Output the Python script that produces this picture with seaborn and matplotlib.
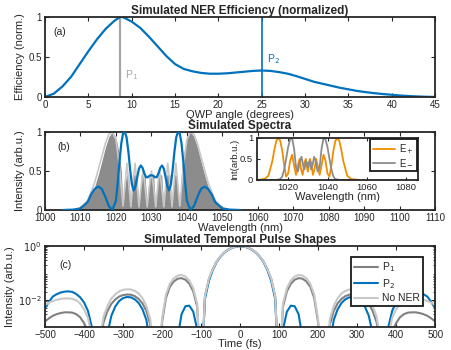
import numpy as np
import pandas as pd
import matplotlib
matplotlib.use("Agg")
import matplotlib.pyplot as plt
import seaborn as sns
from matplotlib.ticker import LogLocator, NullFormatter, FixedLocator, FixedFormatter

# ---------------- data ----------------
# (a) NER efficiency vs QWP angle
qwp_angle = [0, 1, 2, 2.5, 3, 4, 5, 6, 7, 8, 8.7, 9, 10, 11, 12, 13, 14, 15, 16, 17, 18, 19,
             20, 21, 22, 23, 24, 25, 26, 27, 28, 29, 30, 31, 32, 33, 34, 35, 36, 37, 38, 39,
             40, 41, 42, 43, 44, 45]
efficiency = [0, 0.04, 0.13, 0.19, 0.25, 0.41, 0.57, 0.72, 0.85, 0.95, 1.0, 0.995, 0.94, 0.86,
              0.75, 0.63, 0.51, 0.41, 0.35, 0.32, 0.30, 0.29, 0.29, 0.295, 0.305, 0.315, 0.325,
              0.33, 0.325, 0.31, 0.29, 0.26, 0.225, 0.19, 0.165, 0.14, 0.115, 0.095, 0.075,
              0.06, 0.047, 0.036, 0.027, 0.018, 0.011, 0.006, 0.002, 0]
p1_angle = 8.7
p2_angle = 25

# (b) spectra
fringe_wl = [1008, 1010, 1012, 1014, 1015, 1016, 1017, 1018, 1019, 1020, 1021, 1021.5, 1022,
             1022.5, 1023, 1023.6, 1024.2, 1024.8, 1025.9, 1026.5, 1027.1, 1028.2, 1028.8,
             1029.4, 1030.6, 1031.2, 1031.8, 1032.9, 1033.5, 1034.1, 1035.2, 1035.8, 1036.4,
             1037.0, 1037.5, 1038, 1038.5, 1039, 1040, 1041, 1042, 1043, 1044, 1045, 1046,
             1048, 1050, 1052]
fringe_int = [0, 0.02, 0.1, 0.3, 0.45, 0.62, 0.8, 0.94, 1.0, 0.93, 0.7, 0.5, 0.05,
              0.3, 0.45, 0.45, 0.03, 0.45, 0.45, 0.03, 0.45, 0.45, 0.03,
              0.45, 0.45, 0.03, 0.45, 0.45, 0.03, 0.45, 0.45, 0.03, 0.45,
              0.45, 0.3, 0.05, 0.5, 0.7, 0.93, 1.0, 0.94, 0.8, 0.62, 0.45, 0.3,
              0.1, 0.02, 0]

noner_wl = [1008, 1010, 1012, 1014, 1016, 1017, 1018, 1019, 1020, 1021, 1022, 1022.6, 1023.1,
            1023.6, 1024.2, 1024.8, 1025.4, 1025.9, 1026.5, 1027.1, 1027.7, 1028.2, 1028.8,
            1029.4, 1030, 1030.6, 1031.2, 1031.8, 1032.3, 1032.9, 1033.5, 1034.1, 1034.6,
            1035.2, 1035.8, 1036.4, 1036.9, 1037.4, 1038, 1039, 1040, 1041, 1042, 1043, 1044,
            1046, 1048, 1050, 1052]
noner_int = [0, 0.03, 0.12, 0.35, 0.68, 0.85, 0.97, 1.0, 0.9, 0.55, 0.05, 0.35, 0.6,
             0.35, 0.04, 0.35, 0.6, 0.35, 0.04, 0.3, 0.52, 0.3, 0.04,
             0.3, 0.5, 0.3, 0.04, 0.3, 0.52, 0.3, 0.04, 0.35, 0.6,
             0.35, 0.04, 0.35, 0.6, 0.35, 0.05, 0.55, 0.9, 1.0, 0.97, 0.85, 0.68,
             0.35, 0.12, 0.03, 0]

p2_wl = [1005, 1008, 1010, 1012, 1013, 1014, 1015, 1016, 1017, 1018, 1019, 1020, 1020.5, 1021,
         1021.5, 1022, 1022.5, 1023, 1023.5, 1024, 1024.5, 1025, 1025.5, 1026, 1026.5, 1027,
         1027.5, 1028, 1028.5, 1029, 1029.5, 1030, 1030.5, 1031, 1031.5, 1032, 1032.5, 1033,
         1033.5, 1034, 1034.5, 1035, 1035.5, 1036, 1036.5, 1037, 1037.5, 1038, 1038.5, 1039,
         1039.5, 1040, 1041, 1042, 1043, 1044, 1045, 1046, 1047, 1048, 1050, 1052, 1055]
p2_int = [0, 0.005, 0.02, 0.1, 0.2, 0.27, 0.3, 0.27, 0.17, 0.05, 0.0, 0.12, 0.35, 0.62,
          0.85, 0.98, 1.0, 0.93, 0.75, 0.52, 0.33, 0.25, 0.3, 0.42, 0.53, 0.57,
          0.54, 0.47, 0.42, 0.42, 0.44, 0.445, 0.44, 0.42, 0.42, 0.47, 0.54, 0.57,
          0.53, 0.42, 0.3, 0.25, 0.33, 0.52, 0.75, 0.93, 1.0, 0.98, 0.85, 0.62,
          0.35, 0.12, 0.0, 0.05, 0.17, 0.27, 0.3, 0.27, 0.2, 0.1, 0.02, 0.005, 0]

# (b) inset: E+ and E- spectra
eplus_wl = [1004, 1008, 1010, 1012, 1013, 1014, 1015, 1016, 1017, 1018, 1019, 1020, 1021, 1022,
            1023, 1024, 1025, 1025.8, 1026.6, 1027.4, 1028.2, 1029, 1029.6, 1030, 1030.4, 1031,
            1031.8, 1032.6, 1033.4, 1034.2, 1035, 1036, 1037, 1038, 1039, 1040, 1041, 1042,
            1043, 1044, 1045, 1046, 1047, 1048, 1050, 1052, 1056]
eplus_int = [0, 0.02, 0.1, 0.45, 0.72, 0.93, 1.0, 0.93, 0.7, 0.35, 0.08, 0.15, 0.45, 0.6,
             0.35, 0.12, 0.35, 0.5, 0.25, 0.12, 0.4, 0.5, 0.3, 0.2, 0.3, 0.5,
             0.4, 0.12, 0.25, 0.5, 0.35, 0.12, 0.35, 0.6, 0.45, 0.15, 0.08, 0.35,
             0.7, 0.93, 1.0, 0.93, 0.72, 0.45, 0.1, 0.02, 0]
eminus_wl = [1004, 1014, 1016, 1017, 1018, 1019, 1020, 1021, 1022, 1023, 1024, 1025, 1026,
             1026.8, 1027.6, 1028.3, 1029, 1029.6, 1030, 1030.4, 1031, 1031.7, 1032.4, 1033.2,
             1034, 1035, 1036, 1037, 1038, 1039, 1040, 1041, 1042, 1043, 1044, 1046, 1056]
eminus_int = [0, 0, 0.02, 0.08, 0.25, 0.5, 0.78, 0.96, 1.0, 0.75, 0.3, 0.2, 0.45,
              0.55, 0.35, 0.25, 0.45, 0.4, 0.3, 0.4, 0.45, 0.25, 0.35, 0.55,
              0.45, 0.2, 0.3, 0.75, 1.0, 0.96, 0.78, 0.5, 0.25, 0.08, 0.02, 0, 0]

# (c) temporal pulse shapes, time grid -500..500 fs every 10 fs
time_fs = np.arange(-500, 501, 10)
pulse_p1 = [0.0016, 0.0021, 0.0026, 0.003, 0.0033, 0.0035, 0.0035, 0.0034, 0.003, 0.0023,
            0.0014, 0.00066, 0.00014, 1e-5, 0.0002, 0.0015, 0.0039, 0.0072, 0.0105, 0.0135,
            0.0153, 0.016, 0.0158, 0.014, 0.011, 0.0075, 0.0039, 0.0012, 1e-5, 1e-5,
            0.0015, 0.012, 0.031, 0.049, 0.062, 0.065, 0.057, 0.040, 0.021, 0.0057,
            1e-5, 0.014, 0.06, 0.14, 0.27, 0.42, 0.59, 0.75, 0.88, 0.97,
            1.0,
            0.97, 0.88, 0.75, 0.59, 0.42, 0.27, 0.14, 0.06, 0.014, 1e-5,
            0.0057, 0.021, 0.040, 0.057, 0.065, 0.062, 0.049, 0.031, 0.012, 0.0015,
            1e-5, 1e-5, 0.0012, 0.0039, 0.0075, 0.011, 0.014, 0.0158, 0.016, 0.0153,
            0.0135, 0.0105, 0.0072, 0.0039, 0.0015, 0.0002, 1e-5, 0.00014, 0.00066, 0.0014,
            0.0023, 0.003, 0.0034, 0.0035, 0.0035, 0.0033, 0.003, 0.0026, 0.0021, 0.0016]
pulse_p2 = [0.005, 0.0085, 0.0135, 0.0165, 0.019, 0.0205, 0.021, 0.02, 0.0168, 0.0127,
            0.0082, 0.004, 0.001, 1e-5, 1e-5, 1e-5, 0.00056, 0.0026, 0.0057, 0.0092,
            0.0118, 0.013, 0.0126, 0.0107, 0.0078, 0.0045, 0.0018, 0.0002, 1e-5, 1e-5,
            1e-5, 1e-5, 1e-5, 1e-5, 0.0004, 0.003, 0.0059, 0.0062, 0.0037, 0.0008,
            1e-5, 0.011, 0.05, 0.13, 0.26, 0.41, 0.58, 0.74, 0.88, 0.97,
            1.0,
            0.97, 0.88, 0.74, 0.58, 0.41, 0.26, 0.13, 0.05, 0.011, 1e-5,
            0.0008, 0.0037, 0.0062, 0.0059, 0.003, 0.0004, 1e-5, 1e-5, 1e-5, 1e-5,
            1e-5, 1e-5, 0.0002, 0.0018, 0.0045, 0.0078, 0.0107, 0.0126, 0.013, 0.0118,
            0.0092, 0.0057, 0.0026, 0.00056, 1e-5, 1e-5, 1e-5, 0.001, 0.004, 0.0082,
            0.0127, 0.0168, 0.02, 0.021, 0.0205, 0.019, 0.0165, 0.0135, 0.0085, 0.005]
pulse_noner = [0.0066, 0.008, 0.0092, 0.0102, 0.011, 0.0114, 0.0115, 0.0111, 0.0098, 0.0075,
               0.0046, 0.0022, 0.00046, 1e-5, 0.0003, 0.0024, 0.006, 0.0113, 0.0163, 0.021,
               0.024, 0.025, 0.0247, 0.022, 0.0175, 0.0117, 0.006, 0.0019, 1e-5, 1e-5,
               0.002, 0.016, 0.04, 0.064, 0.081, 0.085, 0.075, 0.053, 0.0275, 0.0075,
               1e-5, 0.014, 0.06, 0.14, 0.27, 0.42, 0.59, 0.75, 0.88, 0.97,
               1.0,
               0.97, 0.88, 0.75, 0.59, 0.42, 0.27, 0.14, 0.06, 0.014, 1e-5,
               0.0075, 0.0275, 0.053, 0.075, 0.085, 0.081, 0.064, 0.04, 0.016, 0.002,
               1e-5, 1e-5, 0.0019, 0.006, 0.0117, 0.0175, 0.022, 0.0247, 0.025, 0.024,
               0.021, 0.0163, 0.0113, 0.006, 0.0024, 0.0003, 1e-5, 0.00046, 0.0022, 0.0046,
               0.0075, 0.0098, 0.0111, 0.0115, 0.0114, 0.011, 0.0102, 0.0092, 0.008, 0.0066]

pulses = pd.DataFrame({"t": time_fs, "P1": pulse_p1, "P2": pulse_p2, "NoNER": pulse_noner})

# ---------------- style ----------------
BLUE = "#0072BD"
ORANGE = "#F28C00"
DGRAY = "#808080"
LGRAY = "#C8C8C8"
TXT = "#262626"

sns.set_style("ticks")
plt.rcParams['font.family'] = ['Liberation Sans', 'DejaVu Sans']
plt.rcParams.update({
    "axes.edgecolor": TXT, "axes.linewidth": 1.3,
    "xtick.color": TXT, "ytick.color": TXT,
    "xtick.direction": "in", "ytick.direction": "in",
    "xtick.top": True, "ytick.right": True,
    "xtick.major.size": 3, "ytick.major.size": 3,
    "xtick.minor.size": 1.5, "ytick.minor.size": 1.5,
    "xtick.major.pad": 2.5, "ytick.major.pad": 2.5,
    "xtick.labelsize": 7, "ytick.labelsize": 7,
    "axes.labelcolor": TXT, "axes.labelsize": 8,
})

fig = plt.figure(figsize=(4.51, 3.5), dpi=100)
ax_a = fig.add_axes([0.0998, 0.723, 0.865, 0.229])
ax_b = fig.add_axes([0.0998, 0.400, 0.865, 0.223])
ax_c = fig.add_axes([0.0998, 0.0657, 0.865, 0.231])
ax_in = fig.add_axes([0.569, 0.486, 0.358, 0.12])

# ---------------- (a) ----------------
ax_a.axvline(p1_angle, color="#A6A6A6", lw=1.6, zorder=1)
ax_a.axvline(p2_angle, color=BLUE, lw=1.2, zorder=1)
sns.lineplot(x=qwp_angle, y=efficiency, ax=ax_a, color=BLUE, lw=1.6, zorder=2)
ax_a.set_xlim(0, 45)
ax_a.set_ylim(0, 1)
ax_a.set_xticks(range(0, 46, 5))
ax_a.set_yticks([0, 0.5, 1])
ax_a.set_yticklabels(["0", "0.5", "1"])
ax_a.set_title("Simulated NER Efficiency (normalized)", fontsize=8.5, fontweight="bold", pad=1.5)
ax_a.set_xlabel("QWP angle (degrees)", labelpad=0)
ax_a.set_ylabel("Efficiency (norm.)", labelpad=2)
ax_a.text(1.0, 0.81, "(a)", fontsize=7.5, color=TXT, va="center")
ax_a.text(p1_angle + 0.5, 0.27, "P$_1$", fontsize=7.5, color="#A6A6A6", va="center")
ax_a.text(p2_angle + 0.6, 0.47, "P$_2$", fontsize=7.5, color=BLUE, va="center")

# ---------------- (b) ----------------
ax_b.fill_between(fringe_wl, 0, fringe_int, color="#8C8C8C", lw=0, zorder=1)
sns.lineplot(x=noner_wl, y=noner_int, ax=ax_b, color=LGRAY, lw=1.2, zorder=2)
sns.lineplot(x=p2_wl, y=p2_int, ax=ax_b, color=BLUE, lw=1.6, zorder=3)
ax_b.set_xlim(1000, 1110)
ax_b.set_ylim(0, 1)
ax_b.set_xticks(range(1000, 1111, 10))
ax_b.set_yticks([0, 0.5, 1])
ax_b.set_yticklabels(["0", "0.5", "1"])
ax_b.set_title("Simulated Spectra", fontsize=8.5, fontweight="bold", pad=1.5)
ax_b.set_xlabel("Wavelength (nm)", labelpad=0)
ax_b.set_ylabel("Intensity (arb.u.)", labelpad=2)
ax_b.text(1003.5, 0.81, "(b)", fontsize=7.5, color=TXT, va="center")

# inset
sns.lineplot(x=eplus_wl, y=eplus_int, ax=ax_in, color=ORANGE, lw=1.3, label="E$_+$")
sns.lineplot(x=eminus_wl, y=eminus_int, ax=ax_in, color="#8C8C8C", lw=1.3, label="E$_-$")
ax_in.set_xlim(1004, 1086)
ax_in.set_ylim(0, 1)
ax_in.set_xticks([1020, 1040, 1060, 1080])
ax_in.set_yticks([0, 0.5, 1])
ax_in.set_yticklabels(["0", "0.5", "1"])
ax_in.tick_params(labelsize=6.8, length=2)
ax_in.set_xlabel("Wavelength (nm)", fontsize=8, labelpad=0)
ax_in.set_ylabel("Int(arb.u.)", fontsize=6.8, labelpad=1)
leg_in = ax_in.legend(loc="upper right", fontsize=7, frameon=True, fancybox=False,
                      framealpha=1, edgecolor="#1a1a1a", borderpad=0.3, handlelength=2.3,
                      labelspacing=0.2, borderaxespad=0.15, handletextpad=0.4)
leg_in.get_frame().set_linewidth(1.3)

# ---------------- (c) ----------------
sns.lineplot(data=pulses, x="t", y="P1", ax=ax_c, color=DGRAY, lw=1.5, label="P$_1$")
sns.lineplot(data=pulses, x="t", y="P2", ax=ax_c, color=BLUE, lw=1.5, label="P$_2$")
sns.lineplot(data=pulses, x="t", y="NoNER", ax=ax_c, color=LGRAY, lw=1.5, label="No NER")
ax_c.set_yscale("log")
ax_c.set_xlim(-500, 500)
ax_c.set_ylim(1e-3, 1)
ax_c.set_xticks(range(-500, 501, 100))
ax_c.yaxis.set_major_locator(FixedLocator([1e-2, 1]))
ax_c.yaxis.set_major_formatter(FixedFormatter(["$10^{-2}$", "$10^{0}$"]))
ax_c.yaxis.set_minor_locator(LogLocator(base=10, subs=np.arange(2, 10), numticks=10))
ax_c.yaxis.set_minor_formatter(NullFormatter())
ax_c.set_title("Simulated Temporal Pulse Shapes", fontsize=8.5, fontweight="bold", pad=1.5)
ax_c.set_xlabel("Time (fs)", labelpad=-1)
ax_c.set_ylabel("Intensity (arb.u.)", labelpad=2)
ax_c.text(-462, 0.2, "(c)", fontsize=7.5, color=TXT, va="center")
leg_c = ax_c.legend(loc="upper right", bbox_to_anchor=(0.982, 0.925), fontsize=7.5,
                    frameon=True, fancybox=False, framealpha=1, edgecolor="#1a1a1a",
                    borderpad=0.3, handlelength=2.3, labelspacing=0.25, handletextpad=0.4)
leg_c.get_frame().set_linewidth(1.3)

fig.savefig("out.png", dpi=100)
